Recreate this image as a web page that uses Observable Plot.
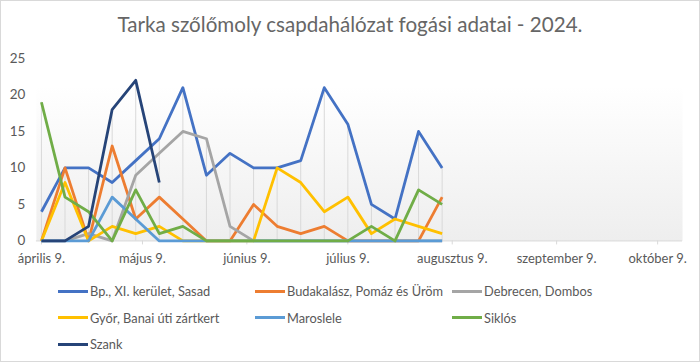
<!DOCTYPE html>
<html>
<head>
<meta charset="utf-8">
<script src="https://cdn.jsdelivr.net/npm/d3@7"></script>
<script src="https://cdn.jsdelivr.net/npm/@observablehq/plot@0.6"></script>
<style>
  html, body { margin: 0; padding: 0; background: #fff; }
  #chart { position: relative; width: 700px; height: 362px; box-sizing: border-box; border: 1px solid #d9d9d9; font-family: Lato, "Open Sans", sans-serif; color: #595959; overflow: hidden; }
  #title { position: absolute; left: 0; top: 11px; width: 100%; text-align: center; font-size: 20.6px; color: #666666; }
  #plot { position: absolute; left: -1px; top: 39px; }
  #legend { position: absolute; left: 57px; top: 281px; width: 620px; display: grid; grid-template-columns: 197px 197px 197px; row-gap: 8.5px; font-size: 12.8px; }
  .item { display: flex; align-items: center; height: 18px; white-space: nowrap; }
  .sw { width: 30px; height: 3px; margin-right: 2px; }
</style>
</head>
<body>
<div id="chart">
  <div id="title">Tarka szőlőmoly csapdahálózat fogási adatai - 2024.</div>
  <div id="plot"></div>
  <div id="legend"></div>
</div>
<script>
// ---- data ----
const dates = ["2024-04-09","2024-04-16","2024-04-23","2024-04-30","2024-05-07","2024-05-14","2024-05-21","2024-05-28","2024-06-04","2024-06-11","2024-06-18","2024-06-25","2024-07-02","2024-07-09","2024-07-16","2024-07-23","2024-07-30","2024-08-06"];
const seriesNames = ["Bp., XI. kerület, Sasad","Budakalász, Pomáz és Üröm","Debrecen, Dombos","Győr, Banai úti zártkert","Maroslele","Siklós","Szank"];
const sasad      = [4,10,10,8,11,14,21,9,12,10,10,11,21,16,5,3,15,10];
const budakalasz = [0,10,0,13,3,6,3,0,0,5,2,1,2,0,0,0,0,6];
const debrecen   = [0,0,1,0,9,12,15,14,2,0,0,0,0,0,0,0,0,0];
const gyor       = [0,8,0,2,1,2,0,0,0,0,10,8,4,6,1,3,2,1];
const maroslele  = [0,0,0,6,3,0,0,0,0,0,0,0,0,0,0,0,0,0];
const siklos     = [19,6,4,0,7,1,2,0,0,0,0,0,0,0,2,0,7,5];
const szank      = [0,0,2,18,22,8,null,null,null,null,null,null,null,null,null,null,null,null];
const colors = ["#4472C4","#ED7D31","#A5A5A5","#FFC000","#5B9BD5","#70AD47","#264478"];
const tickDates = ["2024-04-09","2024-05-09","2024-06-09","2024-07-09","2024-08-09","2024-09-09","2024-10-09"];
const tickLabels = ["április 9.","május 9.","június 9.","július 9.","augusztus 9.","szeptember 9.","október 9."];
const yTicks = [0,5,10,15,20,25];

// ---- build ----
const allSeries = [sasad, budakalasz, debrecen, gyor, maroslele, siklos, szank];
const parse = s => new Date(s + "T00:00:00Z");
const rows = [];
allSeries.forEach((vals, si) => vals.forEach((v, i) => rows.push({date: parse(dates[i]), value: v, series: seriesNames[si]})));
const drops = dates.map((d, i) => ({date: parse(d), max: d3.max(allSeries, s => s[i])}));
const labelMap = new Map(tickDates.map((d, i) => [+parse(d), tickLabels[i]]));
const day = 864e5;
const x0 = +parse("2024-04-09");

const marks = [
  Plot.frame({fill: "url(#bggrad)", stroke: "none"}),
  Plot.ruleX(drops, {x: "date", y1: 0, y2: "max", stroke: "#d9d9d9", strokeWidth: 1}),
  Plot.ruleY([0], {stroke: "#d9d9d9", strokeWidth: 1}),
  Plot.axisX({ticks: tickDates.map(parse), tickFormat: d => labelMap.get(+d), tickSize: 4, tickPadding: 9, stroke: "#d9d9d9", fill: "#595959", fontSize: 13, label: null}),
  Plot.axisY({ticks: yTicks, tickSize: 0, tickPadding: 11, fill: "#595959", fontSize: 13.5, label: null})
];
seriesNames.forEach((name, si) => {
  marks.push(Plot.line(rows.filter(r => r.series === name), {x: "date", y: "value", stroke: colors[si], strokeWidth: 2.8, strokeLinejoin: "round", strokeLinecap: "butt"}));
});

const chart = Plot.plot({
  width: 701, height: 235,
  marginLeft: 36, marginRight: 17, marginTop: 18, marginBottom: 34,
  x: {type: "utc", domain: [new Date(x0 - 1.5 * day), new Date(x0 + 190.4 * day)]},
  y: {domain: [0, 25]},
  style: {fontFamily: "Lato, 'Open Sans', sans-serif", fontSize: "13px", background: "transparent", overflow: "visible"},
  marks
});
const ns = "http://www.w3.org/2000/svg";
const defs = document.createElementNS(ns, "defs");
defs.innerHTML = '<linearGradient id="bggrad" x1="0" y1="0" x2="0" y2="1"><stop offset="0" stop-color="#ffffff"/><stop offset="0.15" stop-color="#ffffff"/><stop offset="1" stop-color="#eeeeee"/></linearGradient>';
chart.insertBefore(defs, chart.firstChild);
document.getElementById("plot").appendChild(chart);

const legend = document.getElementById("legend");
seriesNames.forEach((name, i) => {
  const it = document.createElement("div");
  it.className = "item";
  it.innerHTML = `<span class="sw" style="background:${colors[i]}"></span><span>${name}</span>`;
  legend.appendChild(it);
});
</script>
</body>
</html>
